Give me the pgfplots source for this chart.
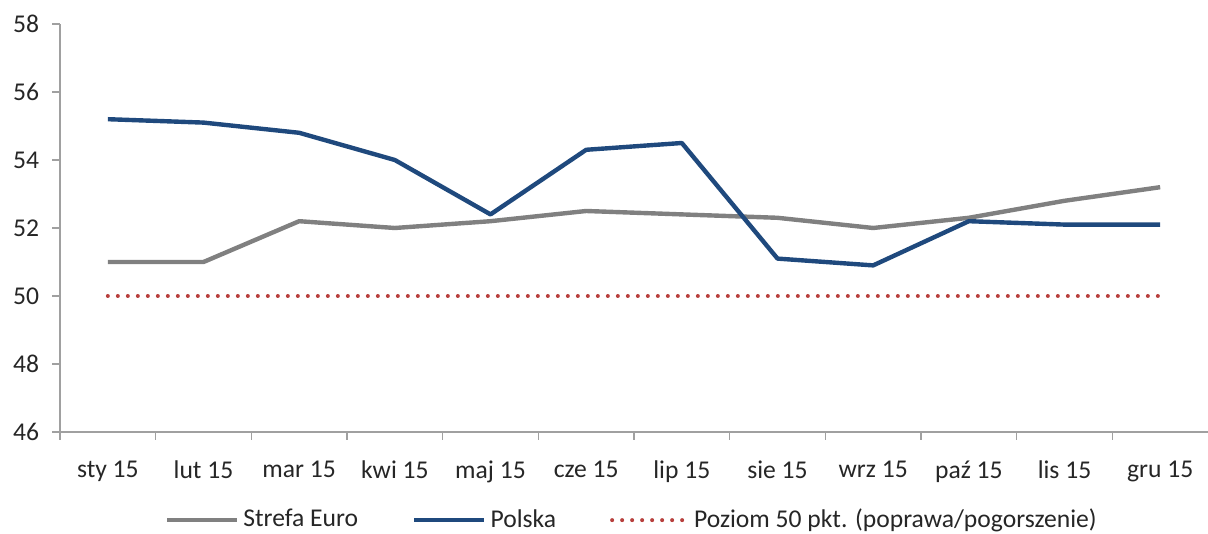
\documentclass[border=0pt]{standalone}
\usepackage{pgfplots}
\pgfplotsset{compat=1.18}
\usepackage{fontspec}
\setmainfont{Carlito}
\definecolor{cgray}{HTML}{808080}
\definecolor{cblue}{HTML}{1F497D}
\definecolor{cred}{HTML}{B8403D}
\definecolor{caxis}{HTML}{A0A0A0}
\begin{document}
\fontsize{12.8}{15}\selectfont
\begin{tikzpicture}
\useasboundingbox (0,0) rectangle (604pt,267pt);
\begin{axis}[
  at={(30pt,51pt)}, anchor=south west,
  scale only axis, width=574pt, height=204pt,
  xmin=-0.5, xmax=11.5, ymin=46, ymax=58,
  axis x line*=bottom, axis y line*=left,
  axis line style={caxis, line width=0.6pt},
  xtick={0,...,11},
  xticklabels={sty 15,lut 15,mar 15,kwi 15,maj 15,cze 15,lip 15,sie 15,wrz 15,paź 15,lis 15,gru 15},
  major x tick style={draw=none},
  minor xtick={-0.5,0.5,...,10.5},
  minor x tick style={caxis, line width=0.6pt},
  minor tick length=4pt,
  ytick={46,48,...,58},
  y tick style={caxis, line width=0.6pt},
  major tick length=4pt,
  tick align=outside,
  /pgf/number format/assume math mode=true,
  ticklabel style={font=\fontsize{12.8}{15}\selectfont, text=black!85},
  xticklabel style={yshift=-6pt},
  yticklabel style={xshift=-2pt},
  legend style={at={(0.499,-0.216)}, anchor=center, draw=none, legend columns=3,
    font=\fontsize{12.8}{15}\selectfont, text=black!85,
    /tikz/every even column/.append style={column sep=25pt}},
  legend image code/.code={\draw[#1] (0pt,0pt) -- (35pt,0pt);},
  legend cell align=left,
]
\addplot[cgray, line width=2.2pt, line join=round] coordinates {
(0,51.0) (1,51.0) (2,52.2) (3,52.0) (4,52.2) (5,52.5) (6,52.4) (7,52.3) (8,52.0) (9,52.3) (10,52.8) (11,53.2)};
\addlegendentry{Strefa Euro}
\addplot[cblue, line width=2.2pt, line join=round] coordinates {
(0,55.2) (1,55.1) (2,54.8) (3,54.0) (4,52.4) (5,54.3) (6,54.5) (7,51.1) (8,50.9) (9,52.2) (10,52.1) (11,52.1)};
\addlegendentry{Polska}
\addplot[cred, line width=2pt, line cap=round, dash pattern=on 0pt off 5pt] coordinates {
(0,50) (1,50) (2,50) (3,50) (4,50) (5,50) (6,50) (7,50) (8,50) (9,50) (10,50) (11,50)};
\addlegendentry{\hspace{3pt}Poziom 50 pkt. (poprawa/pogorszenie)}
\end{axis}
\end{tikzpicture}
\end{document}
